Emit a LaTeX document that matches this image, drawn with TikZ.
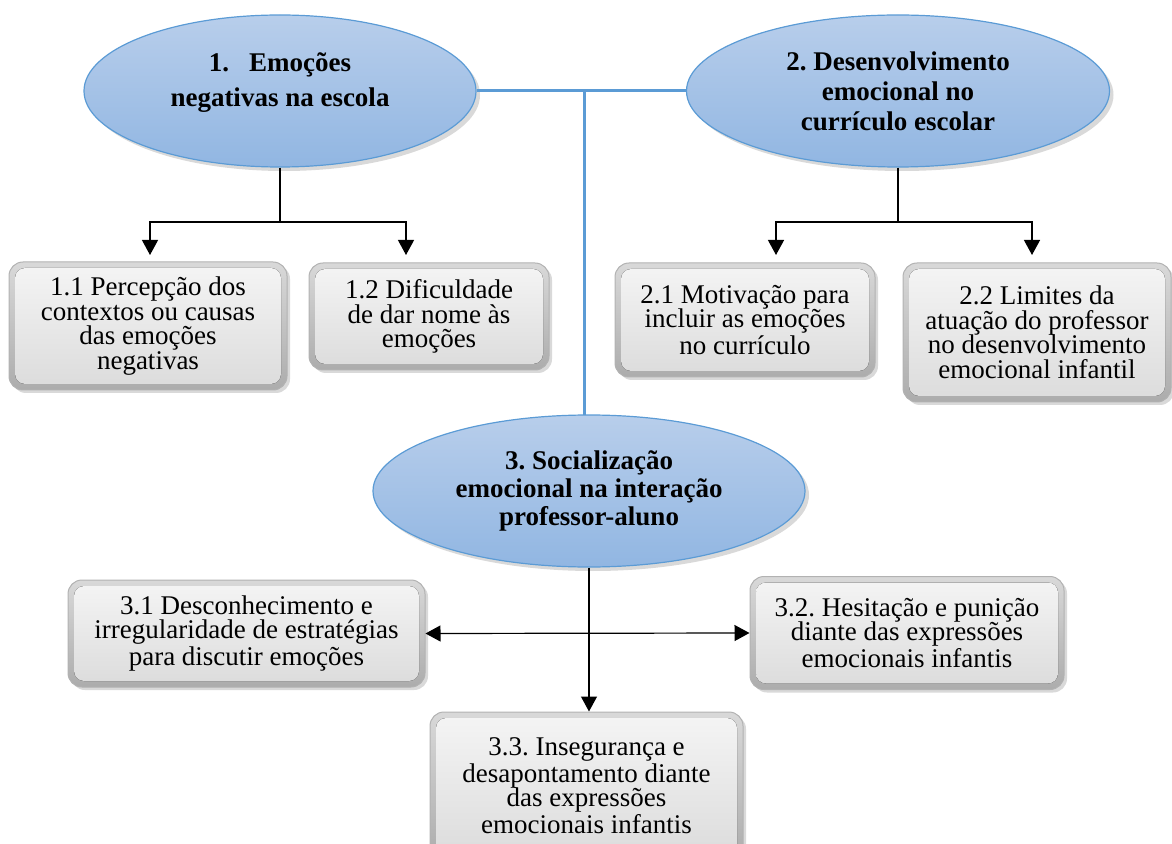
\documentclass[tikz,border=0pt]{standalone}
\usepackage{fontspec}
\setmainfont{Liberation Serif}
\frenchspacing
\usetikzlibrary{shapes.geometric,arrows.meta,shadows}
\definecolor{elltop}{RGB}{184,206,235}
\definecolor{ellbot}{RGB}{145,182,226}
\definecolor{elledge}{RGB}{91,155,213}
\begin{document}
\begin{tikzpicture}[x=0.5pt,y=-0.5pt,
        theme/.style={ellipse,draw=elledge,line width=0.6pt,top color=elltop,bottom color=ellbot,
            drop shadow={opacity=0.3,shadow xshift=2pt,shadow yshift=-2pt},
            inner sep=0pt,align=center,font=\fontsize{13.5}{15}\selectfont\bfseries},
        subtheme/.style={rectangle,rounded corners=7pt,draw=gray!60,line width=0.5pt,
            top color=gray!30,bottom color=gray!65,
            drop shadow={opacity=0.3,shadow xshift=1.5pt,shadow yshift=-1.5pt},
            path picture={\fill[rounded corners=5pt,top color=gray!8,bottom color=gray!28]
                ([shift={(3pt,3pt)}]path picture bounding box.south west) rectangle
                ([shift={(-3pt,-3pt)}]path picture bounding box.north east);},
            inner sep=0pt,align=center,font=\fontsize{13.5}{12.25}\selectfont},
        link/.style={line width=0.6pt},
        tip/.style={-{Triangle[length=7.5pt,width=8pt]}},
        blueline/.style={draw=elledge,line width=1.5pt}]
    \clip (0,0) rectangle (1172,844);
    \node[theme,minimum width=196pt,minimum height=76pt,text depth=11pt,
        font=\fontsize{13.5}{17.5}\selectfont\bfseries] (e1) at (280,91) {1.~~~Emoções\\negativas na escola};
    \node[theme,minimum width=211.5pt,minimum height=76pt] (e2) at (898,91) {2. Desenvolvimento\\emocional no\\currículo escolar};
    \node[theme,minimum width=216pt,minimum height=76pt,
        font=\fontsize{13.5}{14}\selectfont\bfseries] (e3) at (589,491) {3. Socialização\\emocional na interação\\professor-aluno};
    \node[subtheme,minimum width=139pt,minimum height=64pt] (b11) at (148,326) {1.1 Percepção dos\\contextos ou causas\\das emoções\\negativas};
    \node[subtheme,minimum width=120pt,minimum height=53.5pt] (b12) at (429,316.5) {1.2 Dificuldade\\de dar nome às\\emoções};
    \node[subtheme,minimum width=130pt,minimum height=57pt] (b21) at (745,320) {2.1 Motivação para\\incluir as emoções\\no currículo};
    \node[subtheme,minimum width=134pt,minimum height=69.5pt] (b22) at (1037,332.5) {2.2 Limites da\\atuação do professor\\no desenvolvimento\\emocional infantil};
    \node[subtheme,minimum width=178.5pt,minimum height=53.5pt] (b31) at (246.5,633.5) {3.1 Desconhecimento e\\irregularidade de estratégias\\para discutir emoções};
    \node[subtheme,minimum width=157pt,minimum height=56.5pt] (b32) at (907,633) {3.2. Hesitação e punição\\diante das expressões\\emocionais infantis};
    \node[subtheme,minimum width=156.5pt,minimum height=74pt] (b33) at (586.5,786) {3.3. Insegurança e\\desapontamento diante\\das expressões\\emocionais infantis};
    \coordinate (j1) at (280,222);
    \coordinate (t11) at (150,255);
    \coordinate (t12) at (406,255);
    \coordinate (j2) at (898,222);
    \coordinate (t21) at (776,255);
    \coordinate (t22) at (1032,255);
    \coordinate (j3) at (584,415);
    \draw[blueline] (e1.east) -- (e2.west);
    \draw[blueline] (e1.east -| j3) -- (j3);
    \draw[link] (e1.south) -- (j1);
    \draw[link,tip] (j1) -| (t11);
    \draw[link,tip] (j1) -| (t12);
    \draw[link] (e2.south) -- (j2);
    \draw[link,tip] (j2) -| (t21);
    \draw[link,tip] (j2) -| (t22);
    \draw[link,tip] (e3.south) -- (e3.south |- b33.north);
    \draw[link,{Triangle[length=7.5pt,width=8pt]}-{Triangle[length=7.5pt,width=8pt]}] (b31.east) -- (b32.west);
\end{tikzpicture}
\end{document}
